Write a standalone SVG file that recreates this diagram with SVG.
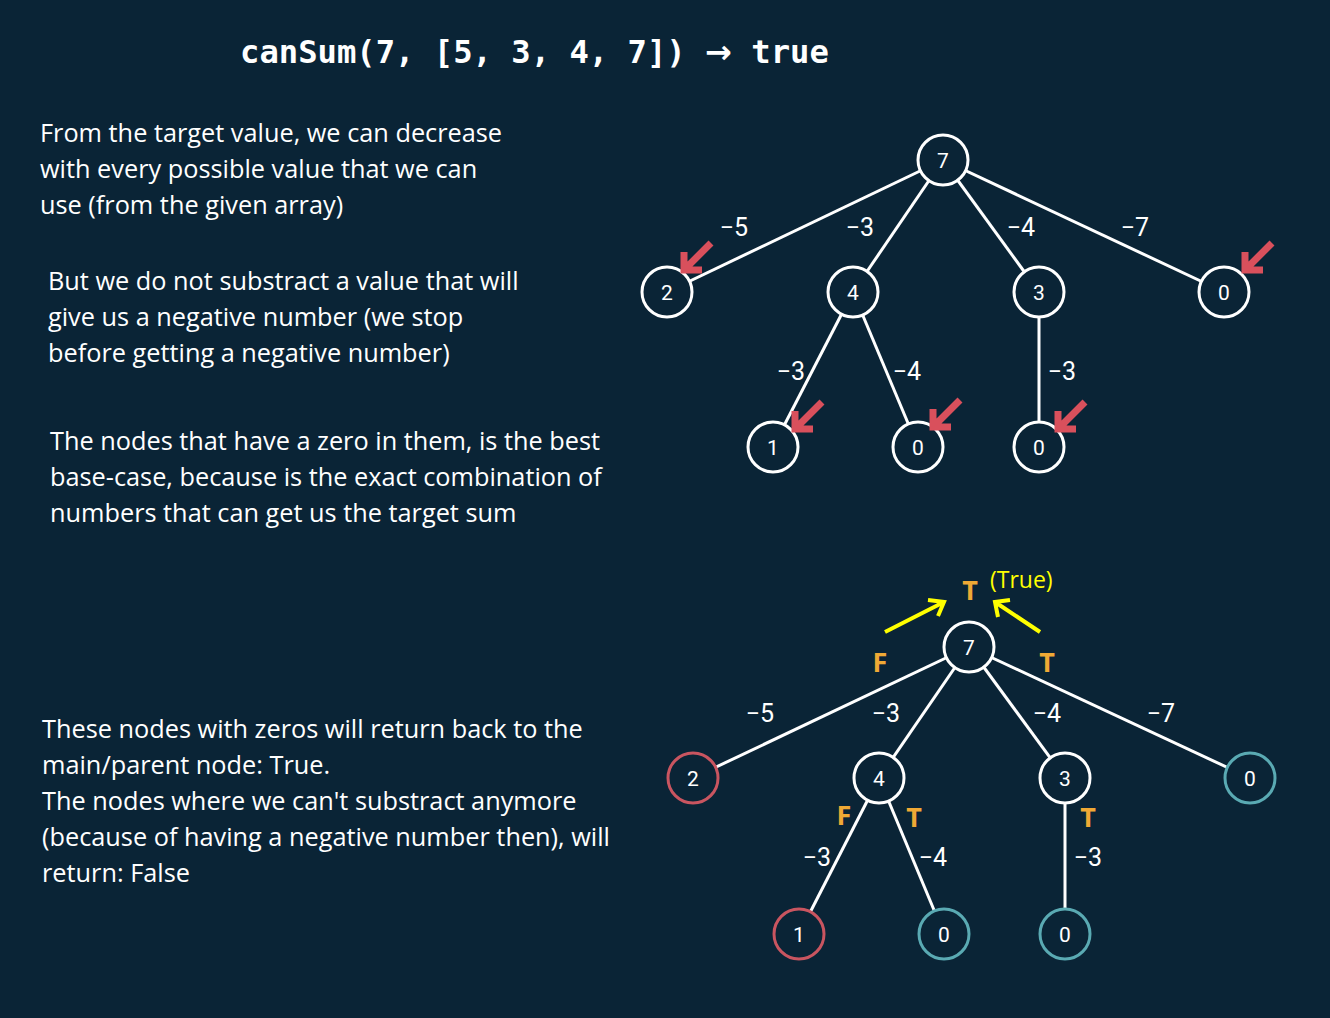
<svg xmlns="http://www.w3.org/2000/svg" width="1330" height="1018" viewBox="0 0 1330 1018">
<style>
.txt{font-family:"Open Sans","Noto Sans",sans-serif;font-size:25.3px;fill:#ffffff}
.title{font-family:"DejaVu Sans Mono","Liberation Mono",monospace;font-size:32.2px;font-weight:bold;fill:#ffffff}
.edge{stroke:#ffffff;stroke-width:3;fill:none}
.node{fill:#0a2436;stroke:#ffffff;stroke-width:3}
.red{stroke:#c95560}
.teal{stroke:#5aaab3}
.num{font-family:"Roboto","Noto Sans",sans-serif;font-size:21px;fill:#ffffff;text-anchor:middle}
.lbl{font-family:"Roboto","Noto Sans",sans-serif;font-size:25px;fill:#ffffff;text-anchor:middle}
.tf{font-family:"Open Sans","Noto Sans",sans-serif;font-size:27px;font-weight:bold;fill:#f0a935;text-anchor:middle}
.ra{stroke:#d9505c;stroke-width:7;fill:none}
.ya{stroke:#ffff00;stroke-width:4;fill:none}
</style>
<defs>
<g id="redarrow"><path class="ra" d="M28,-28 L3,-3 M1,-19 L1,-1 L19,-1"/></g>
</defs>
<rect x="0" y="0" width="1330" height="1018" fill="#0a2436"/>
<text class="title" x="240" y="63">canSum(7, [5, 3, 4, 7]) <tspan font-family="'DejaVu Sans','Noto Sans',sans-serif" font-size="32px">→</tspan> true</text>
<g id="text-blocks">
<text class="txt" x="40" y="142">From the target value, we can decrease</text>
<text class="txt" x="40" y="178">with every possible value that we can</text>
<text class="txt" x="40" y="214">use (from the given array)</text>
<text class="txt" x="48" y="290">But we do not substract a value that will</text>
<text class="txt" x="48" y="326">give us a negative number (we stop</text>
<text class="txt" x="48" y="362">before getting a negative number)</text>
<text class="txt" x="50" y="450">The nodes that have a zero in them, is the best</text>
<text class="txt" x="50" y="486">base-case, because is the exact combination of</text>
<text class="txt" x="50" y="522">numbers that can get us the target sum</text>
<text class="txt" x="42" y="738">These nodes with zeros will return back to the</text>
<text class="txt" x="42" y="774">main/parent node: True.</text>
<text class="txt" x="42" y="810">The nodes where we can't substract anymore</text>
<text class="txt" x="42" y="846">(because of having a negative number then), will</text>
<text class="txt" x="42" y="882">return: False</text>
</g>
<g id="connectors">
<line class="edge" x1="943" y1="160" x2="667" y2="292"/>
<line class="edge" x1="943" y1="160" x2="853" y2="292"/>
<line class="edge" x1="943" y1="160" x2="1039" y2="292"/>
<line class="edge" x1="943" y1="160" x2="1224" y2="292"/>
<line class="edge" x1="853" y1="292" x2="773" y2="447"/>
<line class="edge" x1="853" y1="292" x2="918" y2="447"/>
<line class="edge" x1="1039" y1="292" x2="1039" y2="447"/>
<line class="edge" x1="969" y1="647" x2="693" y2="778"/>
<line class="edge" x1="969" y1="647" x2="879" y2="778"/>
<line class="edge" x1="969" y1="647" x2="1065" y2="778"/>
<line class="edge" x1="969" y1="647" x2="1250" y2="778"/>
<line class="edge" x1="879" y1="778" x2="799" y2="934"/>
<line class="edge" x1="879" y1="778" x2="944" y2="934"/>
<line class="edge" x1="1065" y1="778" x2="1065" y2="934"/>
</g>
<g id="edge-labels">
<text class="lbl" x="734" y="236">−5</text>
<text class="lbl" x="860" y="236">−3</text>
<text class="lbl" x="1021" y="236">−4</text>
<text class="lbl" x="1135" y="236">−7</text>
<text class="lbl" x="791" y="380">−3</text>
<text class="lbl" x="907" y="380">−4</text>
<text class="lbl" x="1062" y="380">−3</text>
<text class="lbl" x="760" y="722">−5</text>
<text class="lbl" x="886" y="722">−3</text>
<text class="lbl" x="1047" y="722">−4</text>
<text class="lbl" x="1161" y="722">−7</text>
<text class="lbl" x="817" y="866">−3</text>
<text class="lbl" x="933" y="866">−4</text>
<text class="lbl" x="1088" y="866">−3</text>
</g>
<g id="top-n7"><circle class="node" cx="943" cy="160" r="25"/><text class="num" x="943" y="168">7</text></g>
<g id="top-n2"><circle class="node" cx="667" cy="292" r="25"/><text class="num" x="667" y="300">2</text></g>
<g id="top-n4"><circle class="node" cx="853" cy="292" r="25"/><text class="num" x="853" y="300">4</text></g>
<g id="top-n3"><circle class="node" cx="1039" cy="292" r="25"/><text class="num" x="1039" y="300">3</text></g>
<g id="top-n0a"><circle class="node" cx="1224" cy="292" r="25"/><text class="num" x="1224" y="300">0</text></g>
<g id="top-n1"><circle class="node" cx="773" cy="447" r="25"/><text class="num" x="773" y="455">1</text></g>
<g id="top-n0b"><circle class="node" cx="918" cy="447" r="25"/><text class="num" x="918" y="455">0</text></g>
<g id="top-n0c"><circle class="node" cx="1039" cy="447" r="25"/><text class="num" x="1039" y="455">0</text></g>
<g id="red-arrows">
<use href="#redarrow" x="683" y="271"/>
<use href="#redarrow" x="1244" y="271"/>
<use href="#redarrow" x="794" y="430"/>
<use href="#redarrow" x="932" y="428"/>
<use href="#redarrow" x="1057" y="430"/>
</g>
<g id="bot-n7"><circle class="node" cx="969" cy="647" r="25"/><text class="num" x="969" y="655">7</text></g>
<g id="bot-n2"><circle class="node red" cx="693" cy="778" r="25"/><text class="num" x="693" y="786">2</text></g>
<g id="bot-n4"><circle class="node" cx="879" cy="778" r="25"/><text class="num" x="879" y="786">4</text></g>
<g id="bot-n3"><circle class="node" cx="1065" cy="778" r="25"/><text class="num" x="1065" y="786">3</text></g>
<g id="bot-n0a"><circle class="node teal" cx="1250" cy="778" r="25"/><text class="num" x="1250" y="786">0</text></g>
<g id="bot-n1"><circle class="node red" cx="799" cy="934" r="25"/><text class="num" x="799" y="942">1</text></g>
<g id="bot-n0b"><circle class="node teal" cx="944" cy="934" r="25"/><text class="num" x="944" y="942">0</text></g>
<g id="bot-n0c"><circle class="node teal" cx="1065" cy="934" r="25"/><text class="num" x="1065" y="942">0</text></g>
<g id="tf-labels">
<text class="tf" x="970" y="600">T</text>
<text class="tf" x="880" y="672">F</text>
<text class="tf" x="1047" y="672">T</text>
<text class="tf" x="844" y="825">F</text>
<text class="tf" x="914" y="827">T</text>
<text class="tf" x="1088" y="827">T</text>
</g>
<g id="true-note">
<text x="990" y="588" style="font-family:'Open Sans','Noto Sans',sans-serif;font-size:23px;fill:#ffff00">(True)</text>
<path class="ya" d="M885,632 L944,602 M928,600 L944,602 L938,616"/>
<path class="ya" d="M1040,632 L995,602 M998,617 L995,602 L1010,600"/>
</g>
</svg>
